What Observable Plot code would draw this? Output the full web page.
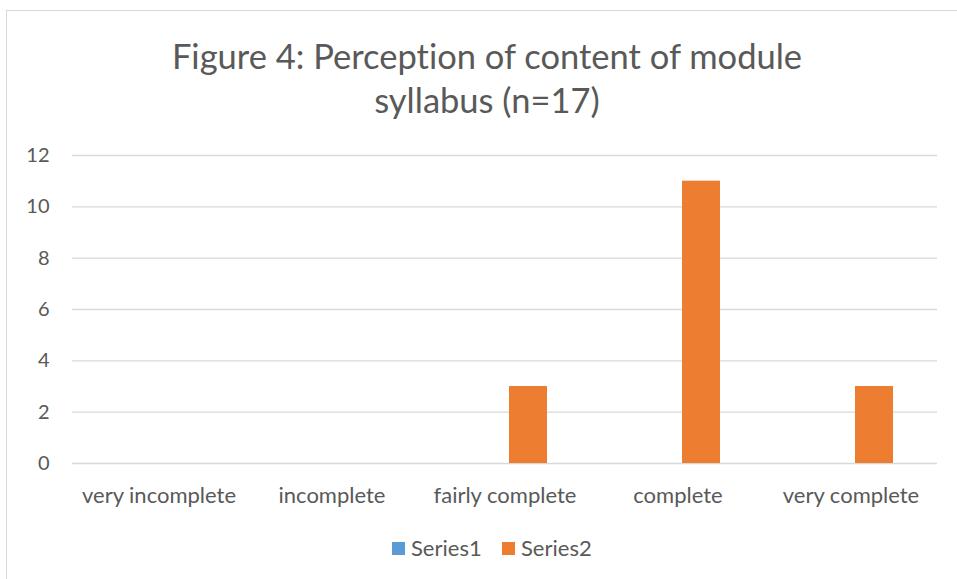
<!DOCTYPE html>
<html>
<head>
<meta charset="utf-8">
<script src="https://cdn.jsdelivr.net/npm/d3@7"></script>
<script src="https://cdn.jsdelivr.net/npm/@observablehq/plot@0.6"></script>
<style>
  html, body { margin: 0; padding: 0; background: #fff; overflow: hidden; width: 957px; height: 579px; font-variant-ligatures: none; font-feature-settings: "liga" 0; }
  svg text { font-variant-ligatures: none; font-feature-settings: "liga" 0; }
  #frame { position: absolute; left: 6px; top: 10px; width: 980px; height: 600px; border: 1.5px solid #d9d9d9; box-sizing: border-box; }
  #title { position: absolute; left: 0; top: 34px; width: 974px; text-align: center; font-family: Lato, sans-serif; font-size: 34.5px; line-height: 44px; color: #595959; }
  #chart { position: absolute; left: 0; top: 135px; }
  #legend { position: absolute; left: 392px; top: 536px; display: flex; font-family: Lato, sans-serif; font-size: 22px; color: #595959; line-height: 24px; }
  .item { display: flex; align-items: center; }
  .sw { width: 13px; height: 13px; margin-right: 6px; }
</style>
</head>
<body>
<div id="frame"></div>
<div id="title">Figure 4: Perception of content of module<br>syllabus (n=17)</div>
<div id="chart"></div>
<div id="legend"></div>
<script>
const categories = ["very incomplete", "incomplete", "fairly complete", "complete", "very complete"];
const seriesNames = ["Series1", "Series2"];
const series1 = [0, 0, 0, 0, 0];
const series2 = [0, 0, 3, 11, 3];
const yTicks = [0, 2, 4, 6, 8, 10, 12];
const colors = ["#5B9BD5", "#ED7D31"];

const data = [];
categories.forEach((c, i) => {
  data.push({category: c, series: seriesNames[0], value: series1[i]});
  data.push({category: c, series: seriesNames[1], value: series2[i]});
});

const chart = Plot.plot({
  width: 957,
  height: 380,
  marginLeft: 71,
  marginRight: 19,
  marginTop: 20,
  marginBottom: 52,
  style: {fontFamily: "Lato, sans-serif", color: "#595959", background: "transparent", overflow: "visible"},
  fx: {domain: categories, padding: 0, label: null},
  x: {domain: seriesNames, paddingInner: 0.204, paddingOuter: 0.871, axis: null},
  y: {domain: [0, 12], label: null},
  color: {domain: seriesNames, range: colors},
  marks: [
    Plot.gridY(yTicks, {stroke: "#d9d9d9", strokeOpacity: 1, strokeWidth: 1.3}),
    Plot.axisY(yTicks, {tickSize: 0, tickPadding: 23, fontSize: 20, fill: "#595959", label: null}),
    Plot.axisFx({anchor: "bottom", tickSize: 0, tickPadding: 24, fontSize: 22, fill: "#595959", label: null}),
    Plot.barY(data, {fx: "category", x: "series", y: "value", fill: "series"})
  ]
});
document.getElementById("chart").appendChild(chart);

const legend = document.getElementById("legend");
seriesNames.forEach((s, i) => {
  const item = document.createElement("div");
  item.className = "item";
  item.style.width = i === 0 ? "110px" : "auto";
  const sw = document.createElement("div");
  sw.className = "sw";
  sw.style.background = colors[i];
  const t = document.createElement("span");
  t.textContent = s;
  item.appendChild(sw);
  item.appendChild(t);
  legend.appendChild(item);
});
</script>
</body>
</html>
